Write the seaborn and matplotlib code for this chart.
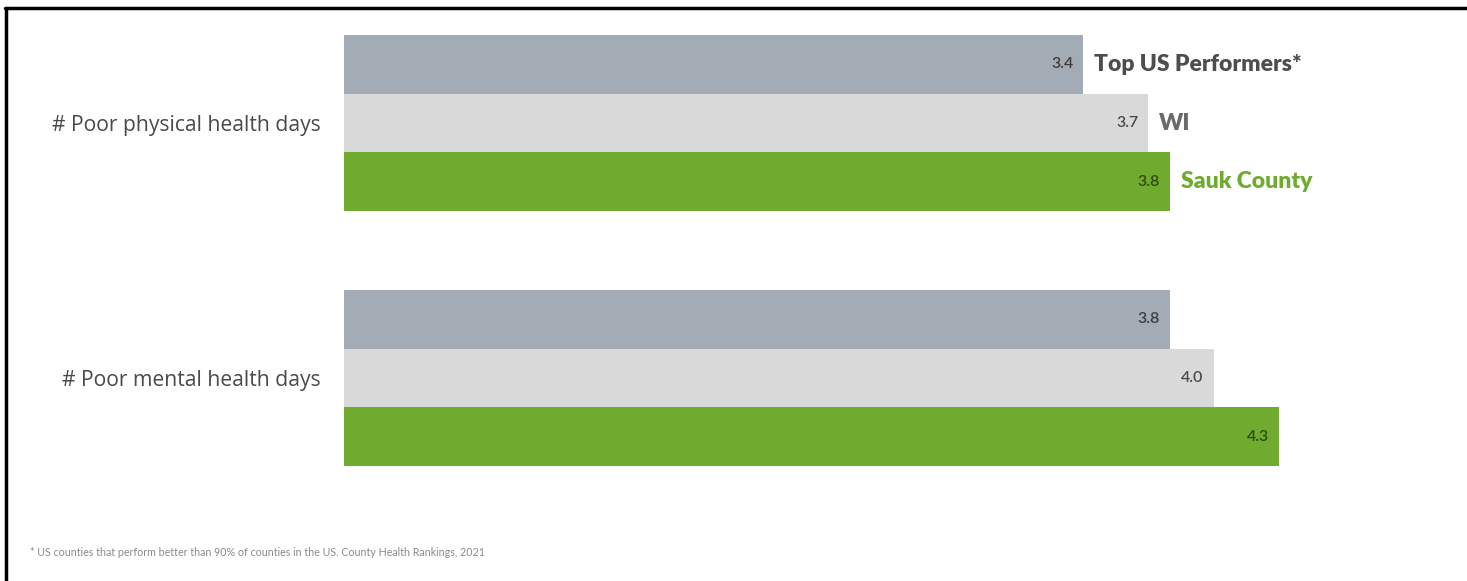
import matplotlib
matplotlib.use("Agg")
import matplotlib.pyplot as plt
import seaborn as sns
import pandas as pd

# Data
measures = ["# Poor physical health days", "# Poor mental health days"]
groups = ["Top US Performers*", "WI", "Sauk County"]
top_us = [3.4, 3.8]
wi = [3.7, 4.0]
sauk = [3.8, 4.3]
footnote = "* US counties that perform better than 90% of counties in the US. County Health Rankings, 2021"

bar_colors = ["#a3abb4", "#d9d9d9", "#6fab2f"]
value_colors = ["#3d3d3d", "#4a4a4a", "#2d4a12"]
name_colors = ["#4d4d4d", "#6a6a6a", "#6fab2f"]

rows = []
for g, vals in zip(groups, [top_us, wi, sauk]):
    for m, v in zip(measures, vals):
        rows.append({"measure": m, "group": g, "value": v})
df = pd.DataFrame(rows)

sns.set_theme(style="white")
plt.rcParams["font.family"] = ["Lato", "DejaVu Sans"]

W, H = 1467, 581
fig = plt.figure(figsize=(W / 100, H / 100), dpi=100)

# axes placed in pixel terms
left_px, right_px, top_px, bot_px = 344, 1344, 20, 500
ax = fig.add_axes([left_px / W, 1 - bot_px / H, (right_px - left_px) / W, (bot_px - top_px) / H])

sns.barplot(data=df, y="measure", x="value", hue="group", order=measures,
            hue_order=groups, palette=bar_colors, width=0.694, orient="h",
            saturation=1, ax=ax, legend=False, errorbar=None, linewidth=0)

px_per_unit = 217.4
ax.set_xlim(0, (right_px - left_px) / px_per_unit)
y_top = (top_px - 123) / 255
y_bot = (bot_px - 123) / 255
ax.set_ylim(y_bot, y_top)

for s in ax.spines.values():
    s.set_visible(False)
ax.set_xticks([])
ax.set_xlabel("")
ax.set_ylabel("")
ax.tick_params(axis="y", length=0, pad=17, labelsize=15.2, labelcolor="#4a4a4a")
for lbl in ax.get_yticklabels():
    lbl.set_family(["Open Sans", "DejaVu Sans"])

# value labels inside bar ends, series names beside the first group
patches = [p for p in ax.patches if p.get_width() > 0]
pad = 10 / px_per_unit
for i, p in enumerate(patches):
    gi = i // len(measures)
    mi = i % len(measures)
    x_end = p.get_x() + p.get_width()
    yc = p.get_y() + p.get_height() / 2
    ax.text(x_end - pad, yc, f"{p.get_width():.1f}", ha="right", va="center",
            fontsize=11.5, fontweight="semibold", color=value_colors[gi])
    if mi == 0:
        ax.text(x_end + 11 / px_per_unit, yc, groups[gi], ha="left", va="center",
                fontsize=16.5, fontweight="heavy", color=name_colors[gi])

fig.text(30 / W, 1 - 552 / H, footnote, ha="left", va="center", fontsize=7.65,
         color="#8a8a8a")

# frame lines at top and left edges
fig.add_artist(plt.Line2D([5 / W, 1], [1 - 8 / H, 1 - 8 / H], color="black", lw=2.5,
                          transform=fig.transFigure))
fig.add_artist(plt.Line2D([6 / W, 6 / W], [0, 1 - 8 / H], color="black", lw=2.5,
                          transform=fig.transFigure))

fig.savefig("out.png", dpi=100, facecolor="white")
